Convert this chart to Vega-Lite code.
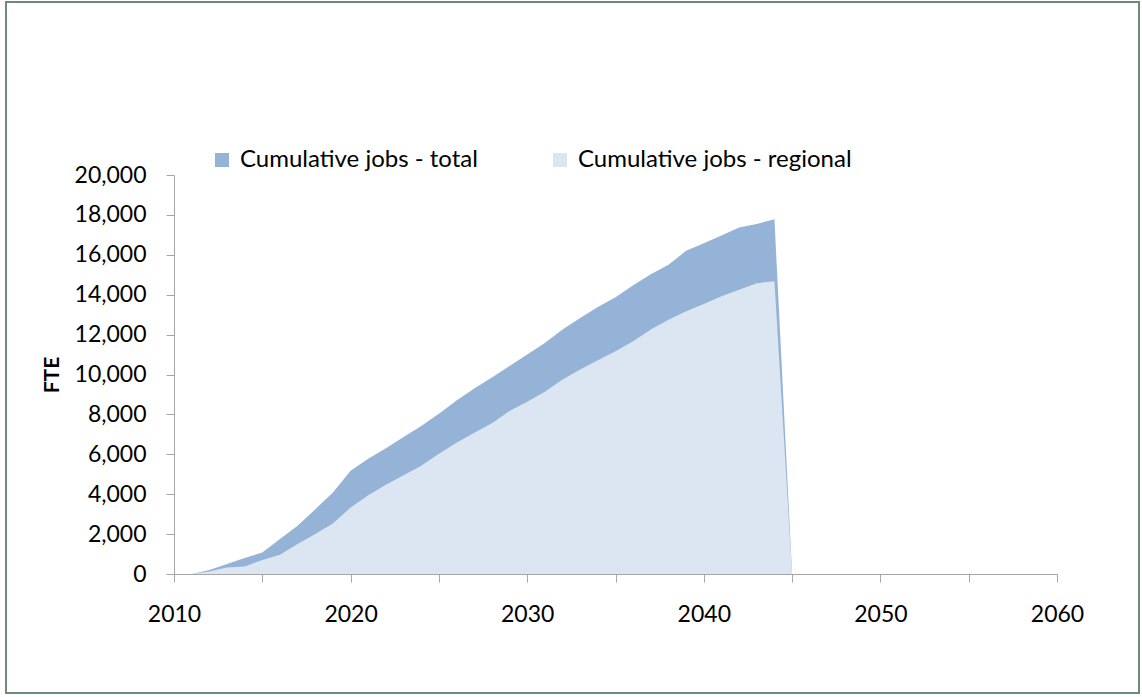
{
  "$schema": "https://vega.github.io/schema/vega-lite/v6.json",
  "autosize": {"type": "none"},
  "width": 883,
  "height": 399,
  "padding": {"left": 174, "top": 175, "right": 85, "bottom": 123},
  "background": "white",
  "config": {
    "font": "Lato",
    "view": {"stroke": null},
    "axis": {"labelFont": "Lato", "labelFontSize": 23, "labelColor": "#000000", "domainColor": "#A6A6A6", "tickColor": "#A6A6A6", "grid": false, "tickSize": 8, "domainWidth": 1, "tickWidth": 1},
    "legend": {"labelFont": "Lato", "labelFontSize": 24, "labelColor": "#000000"}
  },
  "datasets": {
    "jobs": [
      {"year": 2011, "series": "Cumulative jobs - total", "value": 0},
      {"year": 2012, "series": "Cumulative jobs - total", "value": 200},
      {"year": 2013, "series": "Cumulative jobs - total", "value": 500},
      {"year": 2014, "series": "Cumulative jobs - total", "value": 800},
      {"year": 2015, "series": "Cumulative jobs - total", "value": 1080},
      {"year": 2016, "series": "Cumulative jobs - total", "value": 1750},
      {"year": 2017, "series": "Cumulative jobs - total", "value": 2420},
      {"year": 2018, "series": "Cumulative jobs - total", "value": 3250},
      {"year": 2019, "series": "Cumulative jobs - total", "value": 4080},
      {"year": 2020, "series": "Cumulative jobs - total", "value": 5170},
      {"year": 2021, "series": "Cumulative jobs - total", "value": 5780},
      {"year": 2022, "series": "Cumulative jobs - total", "value": 6300},
      {"year": 2023, "series": "Cumulative jobs - total", "value": 6870},
      {"year": 2024, "series": "Cumulative jobs - total", "value": 7420},
      {"year": 2025, "series": "Cumulative jobs - total", "value": 8030},
      {"year": 2026, "series": "Cumulative jobs - total", "value": 8700},
      {"year": 2027, "series": "Cumulative jobs - total", "value": 9300},
      {"year": 2028, "series": "Cumulative jobs - total", "value": 9850},
      {"year": 2029, "series": "Cumulative jobs - total", "value": 10420},
      {"year": 2030, "series": "Cumulative jobs - total", "value": 11000},
      {"year": 2031, "series": "Cumulative jobs - total", "value": 11580},
      {"year": 2032, "series": "Cumulative jobs - total", "value": 12250},
      {"year": 2033, "series": "Cumulative jobs - total", "value": 12830},
      {"year": 2034, "series": "Cumulative jobs - total", "value": 13380},
      {"year": 2035, "series": "Cumulative jobs - total", "value": 13870},
      {"year": 2036, "series": "Cumulative jobs - total", "value": 14470},
      {"year": 2037, "series": "Cumulative jobs - total", "value": 15030},
      {"year": 2038, "series": "Cumulative jobs - total", "value": 15500},
      {"year": 2039, "series": "Cumulative jobs - total", "value": 16200},
      {"year": 2040, "series": "Cumulative jobs - total", "value": 16580},
      {"year": 2041, "series": "Cumulative jobs - total", "value": 16970},
      {"year": 2042, "series": "Cumulative jobs - total", "value": 17370},
      {"year": 2043, "series": "Cumulative jobs - total", "value": 17550},
      {"year": 2044, "series": "Cumulative jobs - total", "value": 17780},
      {"year": 2045, "series": "Cumulative jobs - total", "value": 0},
      {"year": 2011, "series": "Cumulative jobs - regional", "value": 0},
      {"year": 2012, "series": "Cumulative jobs - regional", "value": 130},
      {"year": 2013, "series": "Cumulative jobs - regional", "value": 330},
      {"year": 2014, "series": "Cumulative jobs - regional", "value": 380},
      {"year": 2015, "series": "Cumulative jobs - regional", "value": 700},
      {"year": 2016, "series": "Cumulative jobs - regional", "value": 970},
      {"year": 2017, "series": "Cumulative jobs - regional", "value": 1500},
      {"year": 2018, "series": "Cumulative jobs - regional", "value": 2000},
      {"year": 2019, "series": "Cumulative jobs - regional", "value": 2530},
      {"year": 2020, "series": "Cumulative jobs - regional", "value": 3330},
      {"year": 2021, "series": "Cumulative jobs - regional", "value": 3950},
      {"year": 2022, "series": "Cumulative jobs - regional", "value": 4470},
      {"year": 2023, "series": "Cumulative jobs - regional", "value": 4950},
      {"year": 2024, "series": "Cumulative jobs - regional", "value": 5420},
      {"year": 2025, "series": "Cumulative jobs - regional", "value": 6030},
      {"year": 2026, "series": "Cumulative jobs - regional", "value": 6580},
      {"year": 2027, "series": "Cumulative jobs - regional", "value": 7080},
      {"year": 2028, "series": "Cumulative jobs - regional", "value": 7560},
      {"year": 2029, "series": "Cumulative jobs - regional", "value": 8170},
      {"year": 2030, "series": "Cumulative jobs - regional", "value": 8630},
      {"year": 2031, "series": "Cumulative jobs - regional", "value": 9130},
      {"year": 2032, "series": "Cumulative jobs - regional", "value": 9750},
      {"year": 2033, "series": "Cumulative jobs - regional", "value": 10250},
      {"year": 2034, "series": "Cumulative jobs - regional", "value": 10720},
      {"year": 2035, "series": "Cumulative jobs - regional", "value": 11170},
      {"year": 2036, "series": "Cumulative jobs - regional", "value": 11670},
      {"year": 2037, "series": "Cumulative jobs - regional", "value": 12250},
      {"year": 2038, "series": "Cumulative jobs - regional", "value": 12750},
      {"year": 2039, "series": "Cumulative jobs - regional", "value": 13170},
      {"year": 2040, "series": "Cumulative jobs - regional", "value": 13530},
      {"year": 2041, "series": "Cumulative jobs - regional", "value": 13920},
      {"year": 2042, "series": "Cumulative jobs - regional", "value": 14250},
      {"year": 2043, "series": "Cumulative jobs - regional", "value": 14580},
      {"year": 2044, "series": "Cumulative jobs - regional", "value": 14670},
      {"year": 2045, "series": "Cumulative jobs - regional", "value": 0}
    ],
    "frame": [{"name": "frame"}]
  },
  "layer": [
    {
      "data": {"name": "frame"},
      "mark": {"type": "rect", "fill": null, "stroke": "#6E8A78", "strokeWidth": 2, "x": -168, "y": -173, "x2": {"expr": "width + 82"}, "y2": {"expr": "height + 119"}, "clip": false},
      "encoding": {}
    },
    {
      "data": {"name": "jobs"},
      "encoding": {
        "x": {"field": "year", "type": "quantitative", "scale": {"domain": [2010, 2060], "nice": false, "zero": false},
          "axis": {"title": null, "values": [2010, 2015, 2020, 2025, 2030, 2035, 2040, 2045, 2050, 2055, 2060], "labelExpr": "datum.value % 10 === 0 ? datum.value : ''", "format": "d", "labelPadding": 21, "labelFlush": false, "labelOverlap": false}},
        "y": {"field": "value", "type": "quantitative", "stack": null, "scale": {"domain": [0, 20000], "nice": false},
          "axis": {"title": "FTE", "titleFont": "Lato", "titleFontSize": 21, "titleFontWeight": "bold", "titleColor": "#000000", "titlePadding": 12, "values": [0, 2000, 4000, 6000, 8000, 10000, 12000, 14000, 16000, 18000, 20000], "format": ",d", "labelPadding": 20, "labelOverlap": false, "labelFlush": false}},
        "color": {"field": "series", "type": "nominal",
          "scale": {"domain": ["Cumulative jobs - total", "Cumulative jobs - regional"], "range": ["#95B3D7", "#DCE6F2"]},
          "legend": {"title": null, "orient": "none", "legendX": 36, "legendY": -27, "direction": "horizontal", "symbolType": "square", "symbolSize": 196, "symbolStrokeWidth": 0, "symbolOpacity": 1, "labelLimit": 400, "labelOffset": 6, "columnPadding": 70}}
      },
      "layer": [
        {
          "transform": [{"filter": "datum.series === 'Cumulative jobs - total'"}],
          "mark": {"type": "area", "interpolate": "linear", "opacity": 1}
        },
        {
          "transform": [{"filter": "datum.series === 'Cumulative jobs - regional'"}],
          "mark": {"type": "area", "interpolate": "linear", "opacity": 1}
        }
      ]
    }
  ]
}
